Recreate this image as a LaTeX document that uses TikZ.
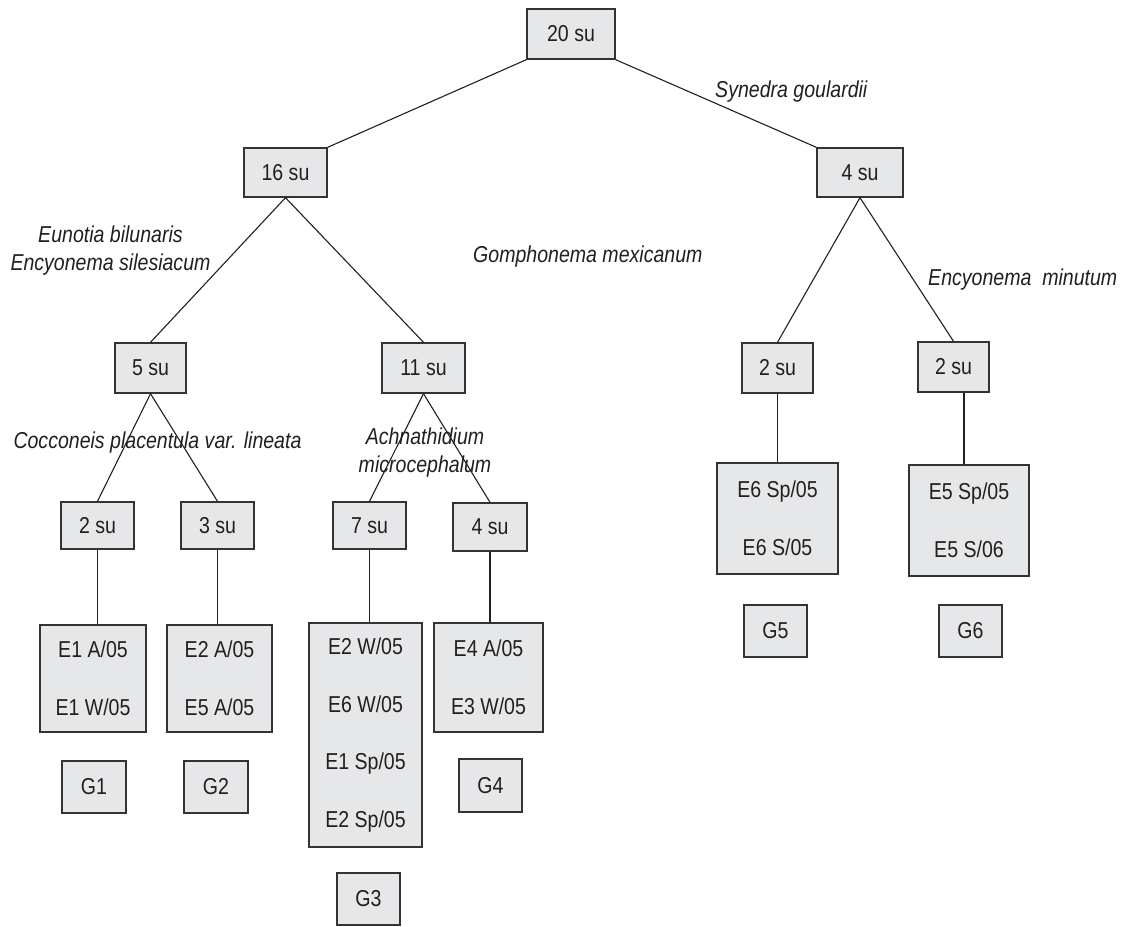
\documentclass[tikz,border=0pt]{standalone}
\usepackage{fontspec}
\setmainfont{Liberation Sans}[FakeStretch=0.85]
\usetikzlibrary{calc}
\definecolor{boxfill}{RGB}{230,231,232}
\definecolor{boxline}{RGB}{51,51,51}
\definecolor{inkc}{RGB}{35,31,32}
\begin{document}
\begin{tikzpicture}[x=1pt,y=-1pt,
  box/.style={draw=boxline,fill=boxfill,line width=1.4pt,inner sep=0pt,text=inkc,
    font=\fontsize{23}{26}\selectfont},
  multibox/.style={box,align=center,font=\fontsize{23}{57.5}\selectfont},
  taxon/.style={font=\fontsize{23}{28}\selectfont\itshape,inner sep=0pt,text=inkc},
  link/.style={line width=1.1pt,draw=inkc}]
\useasboundingbox[fill=white] (0,0) rectangle (1121,926);

% su boxes
\node[box,minimum width=88pt,minimum height=50pt] (n20) at (571,34) {20 su};
\node[box,minimum width=83pt,minimum height=49pt] (n16) at (285.5,172.5) {16 su};
\node[box,minimum width=86pt,minimum height=49pt] (n4a) at (860,172.5) {4 su};
\node[box,minimum width=71pt,minimum height=50pt] (n5) at (150.5,368) {5 su};
\node[box,minimum width=83pt,minimum height=50pt] (n11) at (423.5,368) {11 su};
\node[box,minimum width=71pt,minimum height=50pt] (n2r1) at (777.5,368) {2 su};
\node[box,minimum width=71pt,minimum height=50pt] (n2r2) at (953.5,367) {2 su};
\node[box,minimum width=73pt,minimum height=47pt] (n2l) at (97.5,525.5) {2 su};
\node[box,minimum width=73pt,minimum height=47pt] (n3l) at (217.5,525.5) {3 su};
\node[box,minimum width=73pt,minimum height=47pt] (n7) at (369.5,525.5) {7 su};
\node[box,minimum width=74pt,minimum height=48pt] (n4b) at (490,527) {4 su};

% sample boxes
\node[multibox,minimum width=106pt,minimum height=107pt] (e1) at (93,678.5) {E1 A/05\\E1 W/05};
\node[multibox,minimum width=105pt,minimum height=107pt] (e2) at (219.5,678.5) {E2 A/05\\E5 A/05};
\node[multibox,minimum width=113pt,minimum height=224pt] (e3) at (365.5,735) {E2 W/05\\E6 W/05\\E1 Sp/05\\E2 Sp/05};
\node[multibox,minimum width=109pt,minimum height=109pt] (e4) at (488.5,677.5) {E4 A/05\\E3 W/05};
\node[multibox,minimum width=121pt,minimum height=111pt] (e5) at (777.5,518.5) {E6 Sp/05\\E6 S/05};
\node[multibox,minimum width=120pt,minimum height=111pt] (e6) at (969,520.5) {E5 Sp/05\\E5 S/06};

% group boxes
\node[box,minimum width=64pt,minimum height=52pt] (g1) at (94,787) {G1};
\node[box,minimum width=64pt,minimum height=52pt] (g2) at (216,787) {G2};
\node[box,minimum width=63pt,minimum height=52pt] (g3) at (368.5,899) {G3};
\node[box,minimum width=63pt,minimum height=53pt] (g4) at (490.5,785.5) {G4};
\node[box,minimum width=63pt,minimum height=52pt] (g5) at (775.5,631) {G5};
\node[box,minimum width=63pt,minimum height=52pt] (g6) at (970.5,631) {G6};

% connectors
\draw[link] (n20.south west) -- (n16.north east);
\draw[link] (n20.south east) -- (n4a.north west);
\draw[link] (n16.south) -- (n5.north);
\draw[link] (n16.south) -- (n11.north);
\draw[link] (n4a.south) -- (n2r1.north);
\draw[link] (n4a.south) -- (n2r2.north);
\draw[link] (n5.south) -- (n2l.north);
\draw[link] (n5.south) -- (n3l.north);
\draw[link] (n11.south) -- (n7.north);
\draw[link] (n11.south) -- (n4b.north);
\draw[link] (n2l.south) -- (n2l.south |- e1.north);
\draw[link] (n3l.south) -- (n3l.south |- e2.north);
\draw[link] (n7.south) -- (n7.south |- e3.north);
\draw[link] (n4b.south) -- (n4b.south |- e4.north);
\draw[link] (n2r1.south) -- (n2r1.south |- e5.north);
\draw[link] ($(n2r2.south)+(10.5,0)$) -- ($(e6.north)+(-5,0)$);

% taxon labels
\node[taxon,anchor=base west] (t1) at (715,97) {Synedra goulardii};
\node[taxon,anchor=base west] (t2) at (473,262) {Gomphonema mexicanum};
\node[taxon,align=center] (t3) at (110.5,251) {Eunotia bilunaris\\Encyonema silesiacum};
\node[taxon,anchor=base] (t4) at (157.5,448) {Cocconeis placentula var. lineata};
\node[taxon,align=center] (t5) at (425,453) {Achnathidium\\microcephalum};
\node[taxon,anchor=base west] (t6) at (928,285) {Encyonema\ \ minutum};
\end{tikzpicture}
\end{document}
